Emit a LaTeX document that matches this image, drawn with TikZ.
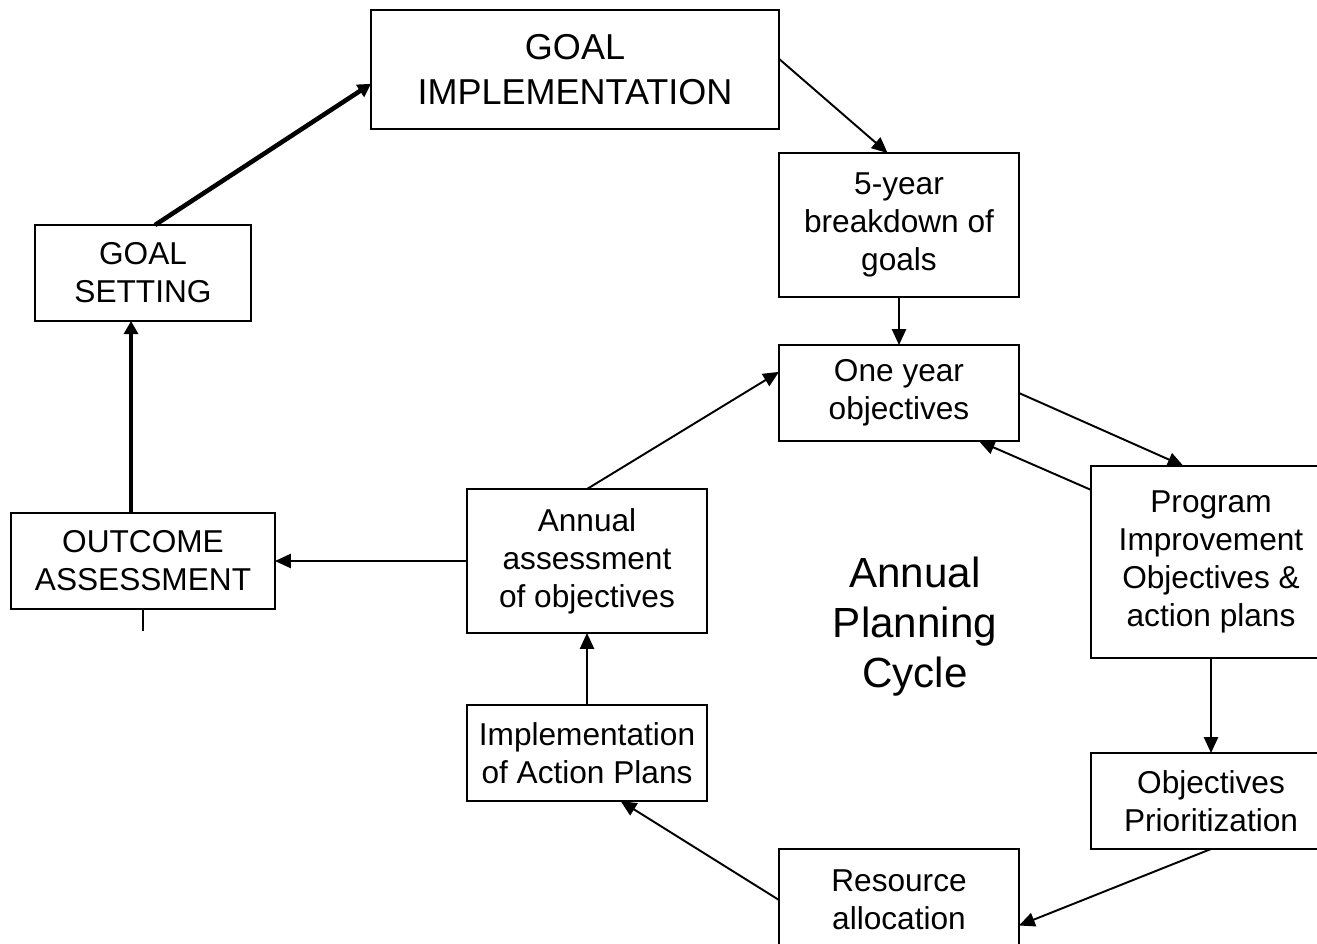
\documentclass[tikz,border=0pt]{standalone}
\usepackage{fontspec}
\setmainfont{Liberation Sans}
\usepackage{xcolor}
\usepackage{tikz}
\usetikzlibrary{arrows.meta}
\definecolor{paper}{HTML}{FFFFFF}
\definecolor{ink}{HTML}{000000}
\tikzset{
  box/.style={draw=ink, line width=1.1pt, inner sep=0pt, outer sep=0pt, align=center,
    text=ink, font=\fontsize{18}{21.6}\selectfont},
  bigbox/.style={box, font=\fontsize{20.5}{25.5}\selectfont},
  flow/.style={draw=ink, line width=1.1pt, -{Triangle[length=9pt, width=8pt]}},
  main/.style={draw=ink, line width=2.6pt, -{Triangle[length=7.5pt, width=8pt]}},
  stubline/.style={draw=ink, line width=1.6pt},
  cyc/.style={text=ink, align=center, font=\fontsize{24}{28.5}\selectfont}
}
\begin{document}
\begin{tikzpicture}[x=0.02cm, y=-0.02cm]
  \useasboundingbox[fill=paper] (0,0) rectangle (1317,943);
  % outer loop
  \node[bigbox, minimum width=8.16cm, minimum height=2.38cm] (impl) at (575,69.5) {GOAL\\IMPLEMENTATION};
  \node[box, minimum width=4.32cm, minimum height=1.92cm] (gset) at (143,273) {GOAL\\SETTING};
  \node[box, minimum width=5.28cm, minimum height=1.92cm] (outc) at (143,561) {OUTCOME\\ASSESSMENT};
  \coordinate (stub) at (143,631);
  % annual cycle
  \node[box, minimum width=4.8cm, minimum height=2.88cm] (five) at (899,225) {5-year\\breakdown of\\goals};
  \node[box, minimum width=4.8cm, minimum height=1.92cm] (oneyr) at (899,393) {One year\\objectives};
  \node[box, minimum width=4.8cm, minimum height=3.84cm] (prog) at (1211,562) {Program\\Improvement\\Objectives \&\\action plans};
  \node[box, minimum width=4.8cm, minimum height=1.92cm] (prio) at (1211,801) {Objectives\\Prioritization};
  \node[box, minimum width=4.8cm, minimum height=2.04cm] (res) at (899,900) {Resource\\allocation};
  \node[box, minimum width=4.8cm, minimum height=1.92cm] (implap) at (587,753) {Implementation\\of Action Plans};
  \node[box, minimum width=4.8cm, minimum height=2.88cm] (annass) at (587,561) {Annual\\assessment\\of objectives};
  \node[cyc] (cycle) at (915,627) {Annual\\Planning\\Cycle};
  % connectors
  \draw[main] (gset.76) -- (impl.184);
  \draw[flow] (impl.3) -- (five.99);
  \draw[flow] (five.south) -- (oneyr.north);
  \draw[flow] (oneyr.east) -- (prog.106);
  \draw[flow] (prog.149) -- (oneyr.-31);
  \draw[flow] (prog.south) -- (prio.north);
  \draw[flow] (prio.south) -- (res.-12);
  \draw[flow] (res.west) -- (implap.-55);
  \draw[flow] (implap.north) -- (annass.south);
  \draw[flow] (annass.north) -- (oneyr.170);
  \draw[flow] (annass.west) -- (outc.east);
  \draw[main] (outc.104) -- (gset.256);
  \draw[stubline] (outc.south) -- (stub);
\end{tikzpicture}
\end{document}
